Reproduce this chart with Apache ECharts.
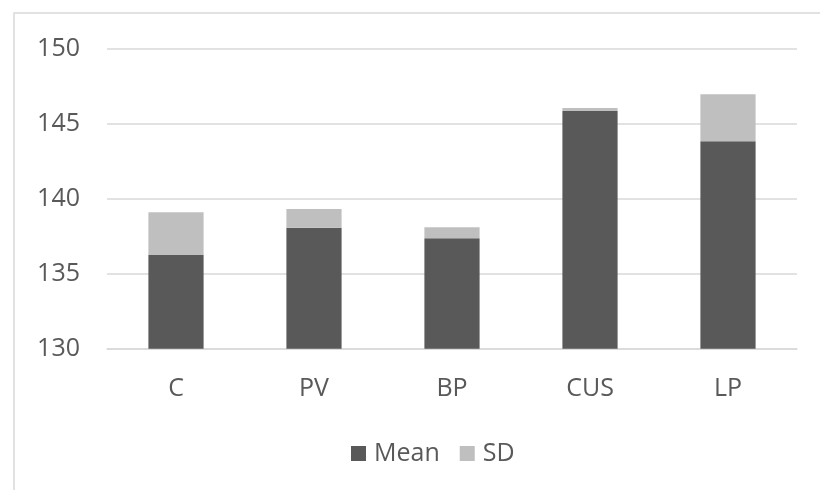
<!DOCTYPE html>
<html>
<head>
<meta charset="utf-8">
<script src="https://cdn.jsdelivr.net/npm/echarts@6/dist/echarts.min.js"></script>
<style>
  html, body { margin: 0; padding: 0; background: #fff; }
  #chart { width: 820px; height: 490px; }
</style>
</head>
<body>
<div id="chart"></div>
<script>
// Groups along the x axis
const categories = ['C', 'PV', 'BP', 'CUS', 'LP'];
// Mean per group (dark segment)
const meanValues = [136.25, 138.07, 137.36, 145.85, 143.83];
// Standard deviation stacked on top of the mean (light segment)
const sdValues = [2.85, 1.24, 0.73, 0.2, 3.13];
// Value axis range and step
const yMin = 130;
const yMax = 150;
const yStep = 5;

const textColor = '#595959';
const fontFamily = '"Open Sans", "Liberation Sans", sans-serif';

const chart = echarts.init(document.getElementById('chart'), null, { renderer: 'canvas' });

chart.setOption({
  backgroundColor: '#ffffff',
  animation: false,
  graphic: [{
    type: 'rect',
    shape: { x: 14, y: 13, width: 830, height: 500 },
    style: { fill: 'none', stroke: '#d9d9d9', lineWidth: 1.5 },
    silent: true,
    z: -1
  }],
  grid: { left: 107, right: 23, top: 48.7, bottom: 141.3, containLabel: false },
  legend: {
    data: ['Mean', 'SD'],
    top: 436,
    left: 346,
    itemWidth: 15,
    itemHeight: 15,
    itemGap: 20,
    icon: 'rect',
    textStyle: { color: textColor, fontSize: 25, fontFamily: fontFamily, padding: [0, 0, 0, 3] }
  },
  xAxis: {
    type: 'category',
    data: categories,
    axisLine: { show: true, lineStyle: { color: '#d9d9d9', width: 1.5 } },
    axisTick: { show: false },
    axisLabel: { color: textColor, fontSize: 25, fontFamily: fontFamily, margin: 28 }
  },
  yAxis: {
    type: 'value',
    min: yMin,
    max: yMax,
    interval: yStep,
    axisLine: { show: false },
    axisTick: { show: false },
    splitLine: { lineStyle: { color: '#d9d9d9', width: 1.5 } },
    axisLabel: { color: textColor, fontSize: 25, fontFamily: fontFamily, margin: 27 }
  },
  series: [
    {
      name: 'Mean',
      type: 'bar',
      stack: 'total',
      data: meanValues,
      barWidth: '40%',
      itemStyle: { color: '#595959' }
    },
    {
      name: 'SD',
      type: 'bar',
      stack: 'total',
      data: sdValues,
      barWidth: '40%',
      itemStyle: { color: '#bfbfbf' }
    }
  ]
});
</script>
</body>
</html>
